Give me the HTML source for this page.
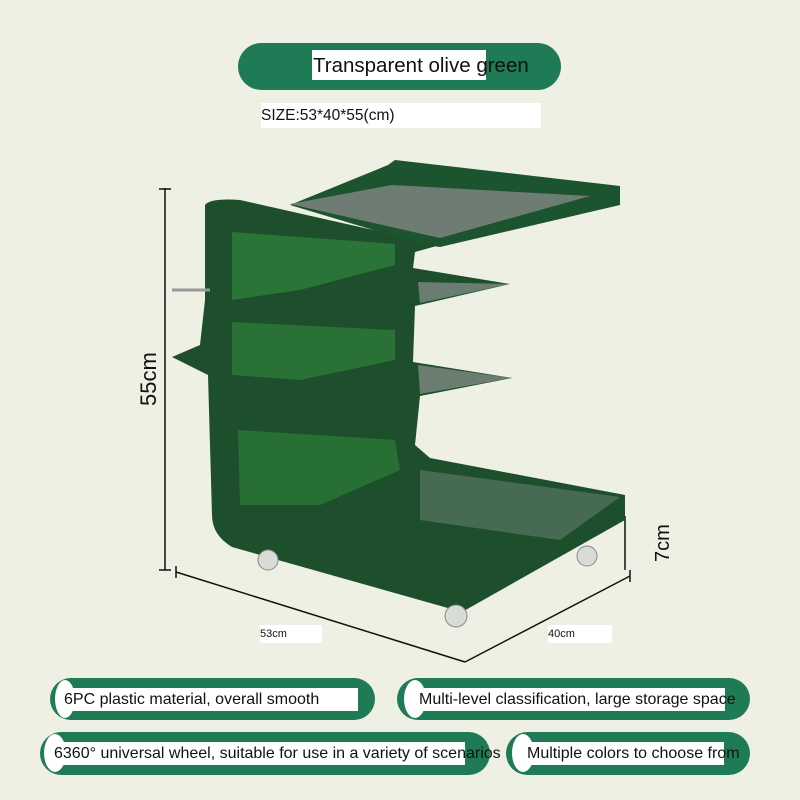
<!DOCTYPE html>
<html><head><meta charset="utf-8"><style>
body{margin:0;width:800px;height:800px;background:#eef0e3;position:relative;overflow:hidden;font-family:"Liberation Sans",sans-serif}
.pill{position:absolute;background:#1f7b55;border-radius:24px}
.wb{position:absolute;background:#fff;color:#111;font-size:16px;line-height:23px;white-space:nowrap;overflow:visible}
.dot{position:absolute;background:#fff;border-radius:50%}
.t{position:absolute;white-space:nowrap;color:#111}
</style></head><body>
<div class="pill" style="left:238px;top:43px;width:323px;height:47px"></div>
<div class="wb" style="left:312px;top:50px;width:173px;height:30px;font-size:20.5px;line-height:32px;padding-left:1px">Transparent olive green</div>
<div class="wb" style="left:261px;top:103px;width:280px;height:25px;font-size:15.5px;line-height:26px">SIZE:53*40*55(cm)</div>

<svg style="position:absolute;left:0;top:0" width="800" height="800">
<g stroke="#111" stroke-width="1.5" fill="none">
<line x1="165" y1="188" x2="165" y2="570"/><line x1="159" y1="189" x2="171" y2="189"/><line x1="159" y1="570" x2="171" y2="570"/>
<line x1="176" y1="572" x2="465" y2="662"/><line x1="176" y1="566" x2="176" y2="578"/>
<line x1="465" y1="662" x2="630" y2="576"/><line x1="630" y1="570" x2="630" y2="582"/>
<line x1="625" y1="516" x2="625" y2="570"/>
</g>
<path d="M205,205 Q210,198 240,200 L440,245 L415,252 L413,268 L510,284 L415,306 L413,362 L512,378 L420,396 L415,445 L430,458 L625,495 L625,520 L462,612 L232,547 Q212,535 212,515 L208,375 L172,357 L200,345 L205,300 Z" fill="#1d4f2c"/>
<path d="M232,232 L395,244 L395,265 L300,290 L232,300 Z" fill="#2d7838" opacity=".9"/>
<path d="M232,322 L395,330 L395,360 L300,380 L232,375 Z" fill="#2b7436" opacity=".9"/>
<path d="M238,430 L395,440 L400,470 L320,505 L240,505 Z" fill="#2a7234" opacity=".9"/>
<path d="M420,470 L620,497 L560,540 L420,520 Z" fill="#476b52"/>
<path d="M418,282 L510,284 L420,303 Z" fill="#6a7d70"/>
<path d="M418,365 L512,378 L420,394 Z" fill="#6a7d70"/>
<path d="M388,165 L395,160 L620,186 L620,205 L440,247 L420,244 L290,205 Z" fill="#1d5430"/>
<path d="M290,204 L392,185 L590,196 L440,238 Z" fill="#6f7c74"/>
<line x1="172" y1="290" x2="210" y2="290" stroke="#999" stroke-width="3"/>
<g fill="#d8dcd6" stroke="#888"><circle cx="268" cy="560" r="10"/><circle cx="456" cy="616" r="11"/><circle cx="587" cy="556" r="10"/></g>
</svg>
<div class="t" style="left:136px;top:406px;font-size:22px;transform:rotate(-90deg);transform-origin:left top">55cm</div>
<div class="t" style="left:652px;top:562px;font-size:20px;transform:rotate(-90deg);transform-origin:left top">7cm</div>
<div class="wb" style="left:260px;top:625px;width:62px;height:18px;font-size:11px;line-height:18px">53cm</div>
<div class="wb" style="left:548px;top:625px;width:64px;height:18px;font-size:11px;line-height:18px">40cm</div>

<div class="pill" style="left:50px;top:678px;width:325px;height:42px"></div>
<div class="dot" style="left:55px;top:680px;width:20px;height:38px"></div>
<div class="wb" style="left:64px;top:688px;width:294px">6PC plastic material, overall smooth</div>
<div class="pill" style="left:397px;top:678px;width:353px;height:42px"></div>
<div class="dot" style="left:404px;top:680px;width:22px;height:38px"></div>
<div class="wb" style="left:416px;top:688px;width:306px;padding-left:3px">Multi-level classification, large storage space</div>
<div class="pill" style="left:40px;top:732px;width:450px;height:43px"></div>
<div class="dot" style="left:44px;top:734px;width:22px;height:38px"></div>
<div class="wb" style="left:54px;top:742px;width:411px">6360° universal wheel, suitable for use in a variety of scenarios</div>
<div class="pill" style="left:506px;top:732px;width:244px;height:43px"></div>
<div class="dot" style="left:512px;top:734px;width:22px;height:38px"></div>
<div class="wb" style="left:522px;top:742px;width:197px;padding-left:5px">Multiple colors to choose from</div>
</body></html>
